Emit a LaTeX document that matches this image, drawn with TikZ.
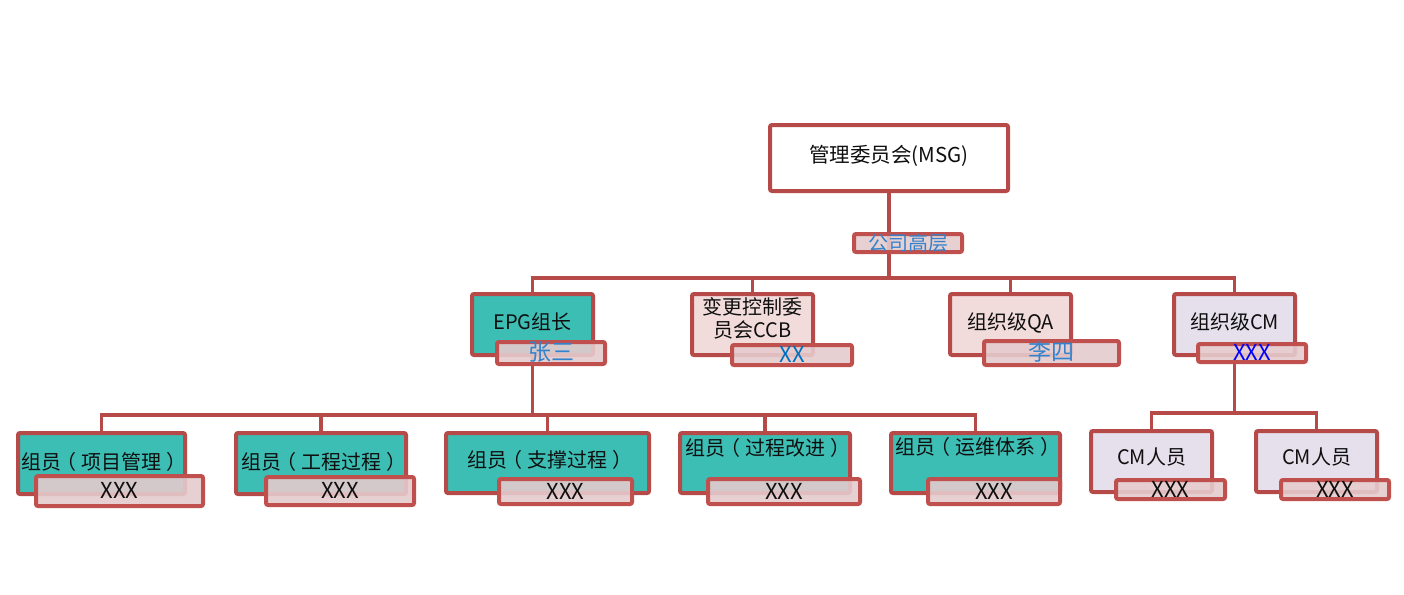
\documentclass[tikz,border=0pt]{standalone}
\usepackage{fontspec}
\setmainfont{Noto Sans CJK SC}
\pgfdeclarelayer{bg}
\pgfsetlayers{bg,main}
\newcommand\olp{\kern-0.25em（\kern0.25em}
\newcommand\crp{\kern0.25em）\kern-0.25em}
\definecolor{bd}{RGB}{182,74,72}
\definecolor{bdl}{RGB}{192,80,77}
\definecolor{tl}{RGB}{60,190,180}
\definecolor{pk}{RGB}{242,220,219}
\definecolor{lv}{RGB}{229,224,236}
\definecolor{lb}{RGB}{229,203,205}
\definecolor{blA}{RGB}{50,130,205}
\definecolor{blB}{RGB}{0,112,192}
\definecolor{blC}{RGB}{0,0,255}
\definecolor{tx}{RGB}{15,15,15}
\tikzset{
  sz/.style 2 args={minimum width=#1pt-4pt,minimum height=#2pt-4pt},
  one/.style={text height=15pt,text depth=#1},
  box/.style={draw=bd,line width=4pt,rounded corners=2pt,inner sep=0pt,text=tx,
    font=\fontsize{20}{23}\selectfont},
  txt/.style={inner sep=0pt,text=tx,font=\fontsize{20}{23}\selectfont,align=center},
  tag/.style={draw=bdl,line width=4pt,rounded corners=2pt,inner sep=0pt,
    fill=lb,fill opacity=0.9,text opacity=1,font=\fontsize{22}{24}\selectfont,text=tx},
  wire/.style={draw=bd,line width=3.5pt}
}
\begin{document}
\begin{tikzpicture}[x=1pt,y=-1pt]
\begin{pgfonlayer}{bg}
\fill[white] (0,0) rectangle (1404,594);
\end{pgfonlayer}
\useasboundingbox (0,0) rectangle (1404,594);

% level 1
\node[box,fill=white,sz={242}{70},one=6pt,font=\fontsize{20.5}{23}\selectfont] (msg) at (889,158) {管理委员会(MSG)};
\node[tag,sz={112}{22},one=0pt,text=blA,font=\fontsize{20}{24}\selectfont] (gs) at (908,243) {公司高层};

% level 2
\node[box,fill=tl,sz={125}{65},one=5pt] (epg) at (532.5,324.5) {EPG组长};
\node[tag,sz={112}{26},one=0pt,text=blA,font=\fontsize{23}{26}\selectfont] (epgl) at (551,353) {张三};
\node[box,fill=pk,sz={125}{65}] (ccb) at (752.5,324.5) {};
\node[txt] (ccbt) at (752.5,318) {变更控制委\\员会CCB};
\node[tag,sz={124}{24},one=0pt,text=blB] (ccbl) at (792,355) {XX};
\node[box,fill=pk,sz={125}{65},one=5pt] (qa) at (1010.5,324.5) {组织级QA};
\node[tag,sz={139}{28},one=0pt,text=blA,font=\fontsize{23}{26}\selectfont] (qal) at (1051.5,353) {李四};
\node[box,fill=lv,sz={125}{65},one=5pt] (cm) at (1234.5,324.5) {组织级CM};
\node[tag,sz={112}{22},one=0pt,text=blC] (cml) at (1252,353) {XXX};

% level 3
\node[box,fill=tl,sz={171}{65},one=3pt] (m1) at (101.5,463.5) {组员\olp 项目管理\crp};
\node[tag,sz={171}{34},one=0pt] (m1l) at (119.5,491) {XXX};
\node[box,fill=tl,sz={174}{65},one=3pt] (m2) at (321,463.5) {组员\olp 工程过程\crp};
\node[tag,sz={152}{32},one=0pt] (m2l) at (340,491) {XXX};
\node[box,fill=tl,sz={207}{64},one=6pt] (m3) at (547.5,463) {组员\olp 支撑过程\crp};
\node[tag,sz={137}{29},one=0pt] (m3l) at (565.5,491.5) {XXX};
\node[box,fill=tl,sz={174}{64},one=30pt] (m4) at (765,463) {组员\olp 过程改进\crp};
\node[tag,sz={156}{29},one=0pt] (m4l) at (784,491.5) {XXX};
\node[box,fill=tl,sz={173}{64},one=32pt] (m5) at (975.5,463) {组员\olp 运维体系\crp};
\node[tag,sz={136}{29},one=0pt] (m5l) at (994,491.5) {XXX};
\node[box,fill=lv,sz={125}{65},one=9pt] (c1) at (1151.5,461.5) {CM人员};
\node[tag,sz={113}{23},one=0pt] (c1l) at (1170.5,489.5) {XXX};
\node[box,fill=lv,sz={125}{65},one=9pt] (c2) at (1316.5,461.5) {CM人员};
\node[tag,sz={112}{23},one=0pt] (c2l) at (1335,489.5) {XXX};

% connectors
\begin{pgfonlayer}{bg}
\coordinate (j1) at (889,278);
\coordinate (j2) at (532.5,415);
\coordinate (j3) at (1234.5,413);
\draw[wire] (msg.south) -- (j1);
\draw[wire] (j1) -| (epg.north);
\draw[wire] (j1) -| (ccb.north);
\draw[wire] (j1) -| (qa.north);
\draw[wire] (j1) -| (cm.north);
\draw[wire] (epg.south) -- (j2);
\draw[wire] (j2) -| (m1.north);
\draw[wire] (j2) -| (m2.north);
\draw[wire] (j2) -| (m3.north);
\draw[wire] (j2) -| (m4.north);
\draw[wire] (j2) -| (m5.north);
\draw[wire] (cm.south) -- (j3);
\draw[wire] (j3) -| (c1.north);
\draw[wire] (j3) -| (c2.north);
\end{pgfonlayer}
\end{tikzpicture}
\end{document}
